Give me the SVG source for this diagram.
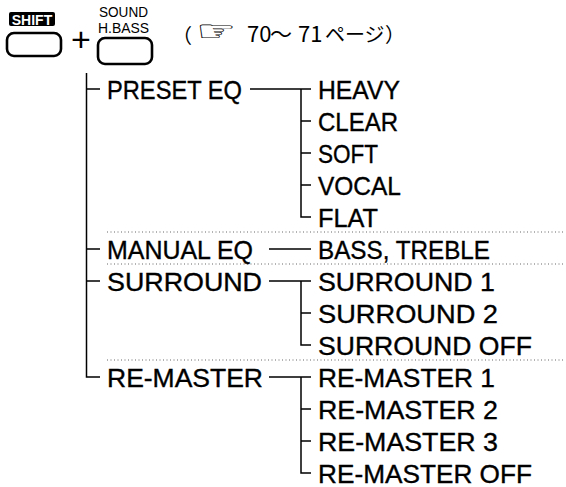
<svg xmlns="http://www.w3.org/2000/svg" width="566" height="487" viewBox="0 0 566 487">
<style>
.lbl{font-family:"Liberation Sans",Arial,sans-serif;font-size:25px;fill:#000;stroke:#000;stroke-width:0.35}
.small{font-family:"Liberation Sans",Arial,sans-serif;font-size:14px;fill:#000}
.jp{font-family:"Noto Sans CJK JP","Noto Sans",sans-serif;font-size:20px;fill:#000}
.btn{fill:#fff;stroke:#000;stroke-width:2.6}
.ln{stroke:#000;stroke-width:1.5;fill:none}
.dot{stroke:#666;stroke-width:1;stroke-dasharray:1 2.5;fill:none}
</style>
<rect width="566" height="487" fill="#fff"/>
<g id="header">
  <g id="shift-key">
    <rect x="9" y="12" width="46" height="14" rx="2" fill="#000"/>
    <text x="32" y="24.5" text-anchor="middle" style="font-family:'Liberation Sans',Arial,sans-serif;font-size:14px;font-weight:bold;fill:#fff">SHIFT</text>
    <rect class="btn" x="7" y="33" width="54" height="23" rx="7"/>
  </g>
  <g id="plus"><text x="81" y="51" text-anchor="middle" style="font-family:'Liberation Sans',Arial,sans-serif;font-size:34px">+</text></g>
  <g id="sound-key">
    <text class="small" x="99" y="17" textLength="49" lengthAdjust="spacingAndGlyphs">SOUND</text>
    <text class="small" x="98" y="33" textLength="51" lengthAdjust="spacingAndGlyphs">H.BASS</text>
    <rect class="btn" x="98" y="38" width="54" height="26" rx="7"/>
  </g>
  <g id="page-ref">
    <text class="jp" x="172" y="43">（</text>
    <text x="0" y="0" transform="translate(196,41) scale(1.9,1.2)" style="font-family:'DejaVu Sans',sans-serif;font-size:24px">☞</text>
    <text class="jp" y="42" style="font-size:22px"><tspan x="247">70</tspan><tspan x="270">～</tspan><tspan x="298">71</tspan></text>
    <text class="jp" y="42"><tspan x="325">ページ</tspan><tspan x="385">）</tspan></text>
  </g>
</g>
<g id="connectors">
  <path class="ln" d="M86.5 73 V377 H100 M86.5 89 H100 M86.5 249 H100 M86.5 281 H100"/>
  <path class="ln" d="M250 89 H311 M301 89 V217 H311 M301 121 H311 M301 153 H311 M301 185 H311"/>
  <path class="ln" d="M269 249 H311"/>
  <path class="ln" d="M269 281 H311 M301 281 V345 H311 M301 313 H311"/>
  <path class="ln" d="M269 377 H311 M301 377 V473 H311 M301 409 H311 M301 441 H311"/>
  <path class="dot" d="M107 232 H564 M107 264 H564 M107 360 H564"/>
</g>
<g id="preset-eq"><text class="lbl" x="107" y="99" textLength="135" lengthAdjust="spacingAndGlyphs">PRESET EQ</text></g>
<g id="heavy"><text class="lbl" x="318" y="99" textLength="82" lengthAdjust="spacingAndGlyphs">HEAVY</text></g>
<g id="clear"><text class="lbl" x="318" y="131" textLength="80" lengthAdjust="spacingAndGlyphs">CLEAR</text></g>
<g id="soft"><text class="lbl" x="318" y="163" textLength="60" lengthAdjust="spacingAndGlyphs">SOFT</text></g>
<g id="vocal"><text class="lbl" x="318" y="195" textLength="83" lengthAdjust="spacingAndGlyphs">VOCAL</text></g>
<g id="flat"><text class="lbl" x="318" y="227" textLength="60" lengthAdjust="spacingAndGlyphs">FLAT</text></g>
<g id="manual-eq"><text class="lbl" x="107" y="259" textLength="146" lengthAdjust="spacingAndGlyphs">MANUAL EQ</text></g>
<g id="bass-treble"><text class="lbl" x="318" y="259" textLength="172" lengthAdjust="spacingAndGlyphs">BASS, TREBLE</text></g>
<g id="surround"><text class="lbl" x="107" y="291" textLength="155" lengthAdjust="spacingAndGlyphs">SURROUND</text></g>
<g id="surround-1"><text class="lbl" x="318" y="291" textLength="177" lengthAdjust="spacingAndGlyphs">SURROUND 1</text></g>
<g id="surround-2"><text class="lbl" x="318" y="323" textLength="180" lengthAdjust="spacingAndGlyphs">SURROUND 2</text></g>
<g id="surround-off"><text class="lbl" x="318" y="355" textLength="214" lengthAdjust="spacingAndGlyphs">SURROUND OFF</text></g>
<g id="re-master"><text class="lbl" x="107" y="387" textLength="156" lengthAdjust="spacingAndGlyphs">RE-MASTER</text></g>
<g id="re-master-1"><text class="lbl" x="318" y="387" textLength="177" lengthAdjust="spacingAndGlyphs">RE-MASTER 1</text></g>
<g id="re-master-2"><text class="lbl" x="318" y="419" textLength="180" lengthAdjust="spacingAndGlyphs">RE-MASTER 2</text></g>
<g id="re-master-3"><text class="lbl" x="318" y="451" textLength="180" lengthAdjust="spacingAndGlyphs">RE-MASTER 3</text></g>
<g id="re-master-off"><text class="lbl" x="318" y="483" textLength="214" lengthAdjust="spacingAndGlyphs">RE-MASTER OFF</text></g>
</svg>
